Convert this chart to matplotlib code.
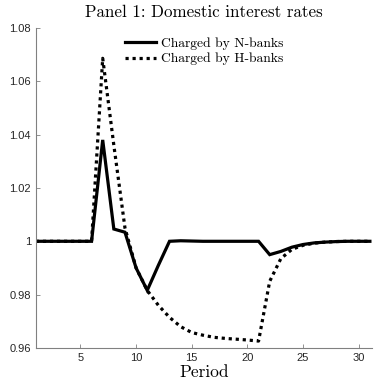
import matplotlib
matplotlib.use("Agg")
import matplotlib.pyplot as plt

periods = list(range(1, 32))
n_banks = [1.0, 1.0, 1.0, 1.0, 1.0, 1.0, 1.038, 1.0046, 1.0034, 0.990, 0.9816,
           0.991, 1.0, 1.0002, 1.0001, 1.0, 1.0, 1.0, 1.0, 1.0, 1.0,
           0.995, 0.9962, 0.9978, 0.9988, 0.9994, 0.9997, 0.9999, 1.0, 1.0, 1.0]
h_banks = [1.0, 1.0, 1.0, 1.0, 1.0, 1.0, 1.0686, 1.036, 1.005, 0.990, 0.9816,
           0.976, 0.9715, 0.968, 0.9658, 0.9648, 0.964, 0.9636, 0.9633, 0.963, 0.9626,
           0.985, 0.9935, 0.997, 0.9985, 0.9993, 0.9997, 0.9999, 1.0, 1.0, 1.0]
yticks = [0.96, 0.98, 1.0, 1.02, 1.04, 1.06, 1.08]
ytick_labels = ["0.96", "0.98", "1", "1.02", "1.04", "1.06", "1.08"]
xticks = [5, 10, 15, 20, 25, 30]

fig = plt.figure(figsize=(3.74, 3.82), dpi=100)
ax = fig.add_axes([0.096, 0.089, 0.899, 0.838])
ax.plot(periods, n_banks, color="black", lw=2.3, solid_joinstyle="miter", label="Charged by N-banks")
ax.plot(periods, h_banks, color="black", lw=2.3, linestyle=(0, (1, 1.2)), label="Charged by H-banks")
ax.set_xlim(1, 31.2)
ax.set_ylim(0.96, 1.08)
ax.set_yticks(yticks)
ax.set_yticklabels(ytick_labels)
ax.set_xticks(xticks)
for s in ["top", "right"]:
    ax.spines[s].set_visible(False)
for s in ["left", "bottom"]:
    ax.spines[s].set_color("#808080")
    ax.spines[s].set_linewidth(0.8)
ax.tick_params(direction="in", length=3, width=0.6, colors="#808080", labelcolor="#262626",
               labelsize=8)
for lab in ax.get_xticklabels() + ax.get_yticklabels():
    lab.set_family("Liberation Sans")
ax.set_title("Panel 1: Domestic interest rates", fontname="cmr10", fontsize=12.2, pad=8)
ax.set_xlabel("Period", fontname="cmr10", fontsize=12.5, labelpad=1)
leg = ax.legend(loc="upper center", bbox_to_anchor=(0.5, 1.0), frameon=False,
                prop={"family": "cmr10", "size": 9.8}, handlelength=2.3, handletextpad=0.35,
                labelspacing=0.2, borderpad=0.2)
fig.savefig("out.png", dpi=100)
